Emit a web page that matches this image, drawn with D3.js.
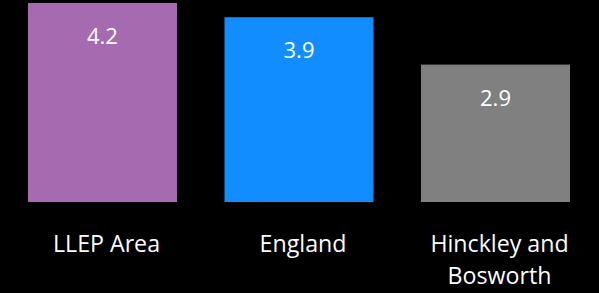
<!DOCTYPE html>
<html><head><meta charset="utf-8">
<script src="https://cdn.jsdelivr.net/npm/d3@7"></script>
<style>html,body{margin:0;padding:0;background:#000;}svg{display:block;}</style>
</head><body>
<script>
const categories = ["LLEP Area", "England", "Hinckley and Bosworth"];
const categoryLines = [["LLEP Area"], ["England"], ["Hinckley and", "Bosworth"]];
const values = [4.2, 3.9, 2.9];
const colors = ["#A66AB0", "#118DFF", "#808080"];

const W = 599, H = 293;
const svg = d3.select("body").append("svg").attr("width", W).attr("height", H)
  .style("background", "#000");

const x = d3.scaleBand().domain(categories).range([4.4, 593.6])
  .paddingInner(0.2417).paddingOuter(0.12);
const y = d3.scaleLinear().domain([0, 4.2]).range([202, 3]);

const font = "'Open Sans', 'Segoe UI', sans-serif";

svg.selectAll("rect.bar").data(values).join("rect").attr("class", "bar")
  .attr("x", (d, i) => x(categories[i]))
  .attr("y", d => y(d))
  .attr("width", x.bandwidth())
  .attr("height", d => y(0) - y(d))
  .attr("fill", (d, i) => colors[i]);

svg.selectAll("text.val").data(values).join("text").attr("class", "val")
  .attr("x", (d, i) => x(categories[i]) + x.bandwidth() / 2)
  .attr("y", d => y(d) + 41)
  .attr("text-anchor", "middle")
  .attr("font-family", font).attr("font-size", 22)
  .attr("fill", "#fff")
  .text(d => d.toFixed(1));

const lbl = svg.selectAll("text.cat").data(categories).join("text").attr("class", "cat")
  .attr("text-anchor", "middle")
  .attr("font-family", font).attr("font-size", 23.2)
  .attr("fill", "#fff");
lbl.each(function(c, i) {
  const t = d3.select(this);
  categoryLines[i].forEach((line, j) => {
    t.append("tspan")
      .attr("x", x(c) + x.bandwidth() / 2 + 4)
      .attr("y", 251.7 + j * 32.3)
      .text(line);
  });
});
</script>
</body></html>
